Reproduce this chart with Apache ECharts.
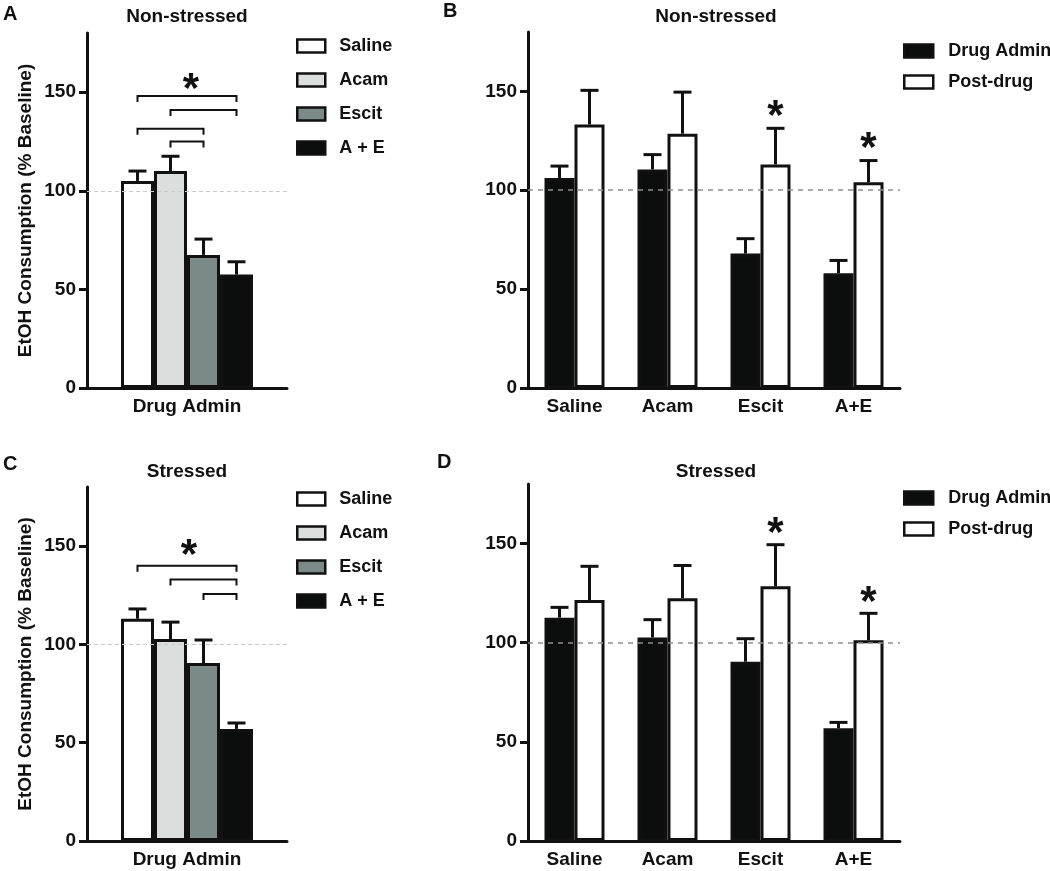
<!DOCTYPE html>
<html>
<head>
<meta charset="utf-8">
<script src="https://cdn.jsdelivr.net/npm/echarts@6/dist/echarts.min.js"></script>
<style>html,body{margin:0;padding:0;background:#fff;}#c{width:1050px;height:871px;}</style>
</head>
<body>
<div id="c"></div>
<script>
// ---------- data ----------
const groups = ['Saline', 'Acam', 'Escit', 'A + E'];
const adminCat = ['Drug Admin'];
const meanA = [105, 110, 67.5, 57.5];
const semA = [5, 7.5, 8, 6.5];
const meanC = [113, 102.7, 90.5, 57];
const semC = [5, 8.6, 11.7, 3];
const drugCats = ['Saline', 'Acam', 'Escit', 'A+E'];
const phases = ['Drug Admin', 'Post-drug'];
const drugB = [106.2, 110.5, 68, 58];
const drugBErr = [6, 7.5, 7.5, 6.5];
const postB = [133.2, 128.6, 113, 104];
const postBErr = [17.3, 21, 18.3, 11];
const drugD = [112.6, 102.6, 90.4, 56.8];
const drugDErr = [5.2, 9, 11.6, 3];
const postD = [121.5, 122.4, 128.4, 101.2];
const postDErr = [17, 16.5, 21, 13.6];
const yTicks = [0, 50, 100, 150];
const baseline = 100;
// brackets: [fromGroup, toGroup, height]
const bracketsA = [[0, 3, 148], [1, 3, 141], [0, 2, 131.5], [1, 2, 125]];
const bracketsC = [[0, 3, 140], [1, 3, 133], [2, 3, 125.6]];
// stars: [category, height]
const starsA = [[0, 156]];
const starsC = [[0, 150]];
const starsB = [[2, 142], [3, 125.7]];
const starsD = [[2, 159.6], [3, 125]];

// ---------- styles ----------
const FONT = 'Liberation Sans, Arial, Helvetica, sans-serif';
const INK = '#111';
const groupColors = ['#ffffff', '#dadfdd', '#7b8a88', '#0c0e0d'];
const phaseColors = ['#0c0e0d', '#ffffff'];
const BW_A = 33, BW_B = 30;

const chart = echarts.init(document.getElementById('c'));

const grids = [
  { left: 87, top: 33, width: 200, height: 355 },
  { left: 528, top: 32, width: 372, height: 356 },
  { left: 87, top: 487, width: 200, height: 354 },
  { left: 528, top: 484, width: 372, height: 357 }
];

function yAxis(gi, withName) {
  return {
    type: 'value', gridIndex: gi, min: 0, max: 180, interval: 50,
    name: withName ? 'EtOH Consumption (% Baseline)' : '',
    nameLocation: 'middle', nameGap: 52,
    nameTextStyle: { fontFamily: FONT, fontWeight: 'bold', fontSize: 19, color: INK },
    axisLine: { show: true, lineStyle: { color: INK, width: 3 } },
    axisTick: { show: true, length: 8, lineStyle: { color: INK, width: 3 }, customValues: yTicks },
    axisLabel: { fontFamily: FONT, fontWeight: 'bold', fontSize: 19, color: INK, margin: 11, customValues: yTicks },
    splitLine: { show: false }
  };
}
function xAxis(gi, data) {
  return {
    type: 'category', gridIndex: gi, data: data,
    axisLine: { show: true, onZero: false, lineStyle: { color: INK, width: 3 } },
    axisTick: { show: false },
    axisLabel: { fontFamily: FONT, fontWeight: 'bold', fontSize: 19, color: INK, margin: 9, interval: 0 },
    splitLine: { show: false }
  };
}

function errSeries(axisIdx, offset, items) {
  return {
    type: 'custom', xAxisIndex: axisIdx, yAxisIndex: axisIdx, z: 5, silent: true,
    encode: { x: 0, y: 1 },
    data: items,
    renderItem: function (params, api) {
      const c = api.value(0), m = api.value(1), e = api.value(2);
      const base = api.coord([c, m]);
      const top = api.coord([c, m + e]);
      const cx = base[0] + offset;
      return {
        type: 'group', children: [
          { type: 'line', shape: { x1: cx, y1: base[1], x2: cx, y2: top[1] }, style: { stroke: INK, lineWidth: 3 } },
          { type: 'line', shape: { x1: cx - 9, y1: top[1], x2: cx + 9, y2: top[1] }, style: { stroke: INK, lineWidth: 3 } }
        ]
      };
    }
  };
}

function bracketSeries(axisIdx, list, bw, n) {
  return {
    type: 'custom', xAxisIndex: axisIdx, yAxisIndex: axisIdx, z: 5, silent: true,
    encode: { x: 0, y: 1 },
    data: list.map(b => [0, b[2], b[0], b[1]]),
    renderItem: function (params, api) {
      const p = api.coord([0, api.value(1)]);
      const x1 = p[0] + (api.value(2) - (n - 1) / 2) * bw;
      const x2 = p[0] + (api.value(3) - (n - 1) / 2) * bw;
      const y = p[1];
      return {
        type: 'polyline',
        shape: { points: [[x1, y + 6], [x1, y], [x2, y], [x2, y + 6]] },
        style: { stroke: INK, lineWidth: 2, fill: null }
      };
    }
  };
}

function starSeries(axisIdx, list, offset) {
  return {
    type: 'custom', xAxisIndex: axisIdx, yAxisIndex: axisIdx, z: 6, silent: true,
    encode: { x: 0, y: 1 },
    data: list,
    renderItem: function (params, api) {
      const p = api.coord([api.value(0), api.value(1)]);
      return {
        type: 'text', x: p[0] + offset, y: p[1] + 10,
        style: { text: '*', font: 'bold 42px ' + FONT, fill: INK, textAlign: 'center', textVerticalAlign: 'middle' }
      };
    }
  };
}

function baseLine(axisIdx, style) {
  return {
    type: 'line', xAxisIndex: axisIdx, yAxisIndex: axisIdx, data: [], z: 1, silent: true,
    markLine: { silent: true, symbol: 'none', label: { show: false }, lineStyle: style, data: [{ yAxis: baseline }] }
  };
}

const series = [];
// Panel A & C
[[0, meanA, semA], [2, meanC, semC]].forEach(([ax, means, sems]) => {
  groups.forEach((g, i) => {
    series.push({
      name: g, type: 'bar', xAxisIndex: ax, yAxisIndex: ax, z: 2,
      barWidth: BW_A, barGap: '0%',
      itemStyle: { color: groupColors[i], borderColor: INK, borderWidth: 3 },
      data: [means[i]]
    });
    series.push(errSeries(ax, (i - 1.5) * BW_A, [[0, means[i], sems[i]]]));
  });
  series.push(baseLine(ax, { color: '#c6cdcc', type: [4, 3], width: 1 }));
});
series.push(bracketSeries(0, bracketsA, BW_A, 4));
series.push(bracketSeries(2, bracketsC, BW_A, 4));
series.push(starSeries(0, starsA, 4));
series.push(starSeries(2, starsC, 2));

// Panel B & D
[[1, drugB, drugBErr, postB, postBErr, starsB], [3, drugD, drugDErr, postD, postDErr, starsD]].forEach(([ax, dm, de, pm, pe, st]) => {
  [[dm, de], [pm, pe]].forEach(([m, e], k) => {
    series.push({
      name: phases[k], type: 'bar', xAxisIndex: ax, yAxisIndex: ax, z: 2,
      barWidth: BW_B, barGap: '0%',
      itemStyle: { color: phaseColors[k], borderColor: INK, borderWidth: 3 },
      data: m
    });
    series.push(errSeries(ax, (k - 0.5) * BW_B, m.map((v, i) => [i, v, e[i]])));
  });
  series.push(baseLine(ax, { color: '#8f8f8f', type: [5, 5], width: 1.6 }));
  series.push(starSeries(ax, st, BW_B / 2));
});

function legend(data, left, top, w, h, gap, pad) {
  return {
    data: data, orient: 'vertical', left: left, top: top, padding: 0,
    itemWidth: w, itemHeight: h, itemGap: gap, icon: 'rect', selectedMode: false,
    itemStyle: { borderColor: INK, borderWidth: 2.5 },
    textStyle: { fontFamily: FONT, fontWeight: 'bold', fontSize: 18, color: INK, lineHeight: h, padding: [0, 0, 0, pad] }
  };
}

function txt(t, x, y, size, align) {
  return { type: 'text', x: x, y: y, style: { text: t, font: 'bold ' + size + 'px ' + FONT, fill: INK, textAlign: align, textVerticalAlign: 'middle' } };
}

chart.setOption({
  animation: false,
  backgroundColor: '#fff',
  grid: grids,
  xAxis: [xAxis(0, adminCat), xAxis(1, drugCats), xAxis(2, adminCat), xAxis(3, drugCats)],
  yAxis: [yAxis(0, true), yAxis(1, false), yAxis(2, true), yAxis(3, false)],
  legend: [
    legend(groups, 296, 37, 28, 13, 16, 9),
    legend(phases, 903, 42, 29, 13, 13, 10),
    legend(groups, 296, 490, 28, 13, 16, 9),
    legend(phases, 903, 489, 29, 13, 13, 10)
  ],
  graphic: [
    txt('A', 3, 14, 20, 'left'),
    txt('B', 443, 11, 20, 'left'),
    txt('C', 3, 464, 20, 'left'),
    txt('D', 437, 462, 20, 'left'),
    txt('Non-stressed', 187, 17, 19, 'center'),
    txt('Non-stressed', 716, 17, 19, 'center'),
    txt('Stressed', 187, 472, 19, 'center'),
    txt('Stressed', 716, 472, 19, 'center')
  ],
  series: series
});
</script>
</body>
</html>
